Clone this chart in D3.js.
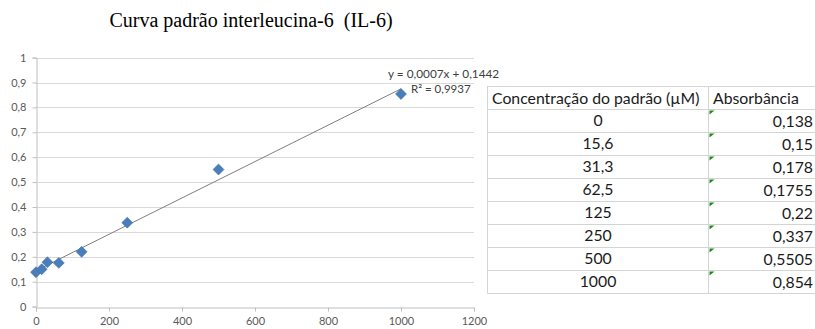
<!DOCTYPE html>
<html>
<head>
<meta charset="utf-8">
<script src="https://cdn.jsdelivr.net/npm/d3@7"></script>
<style>
  html, body { margin: 0; padding: 0; background: #fff; }
  svg { display: block; }
</style>
</head>
<body>
<svg id="chart" width="815" height="329"></svg>
<script>
// Standard curve data: concentration (µM) and measured absorbance
const concentrations = [0, 15.6, 31.3, 62.5, 125, 250, 500, 1000];
const absorbances = [0.138, 0.15, 0.178, 0.1755, 0.22, 0.337, 0.5505, 0.854];
const xTicks = [0, 200, 400, 600, 800, 1000, 1200];
const yTicks = [0, 0.1, 0.2, 0.3, 0.4, 0.5, 0.6, 0.7, 0.8, 0.9, 1];
const tableHeaders = ["Concentração do padrão (µM)", "Absorbância"];

const svg = d3.select("#chart");
const fmt = v => String(v).replace(".", ",");
const axisFont = "Lato, 'Open Sans', sans-serif";

const x = d3.scaleLinear().domain([0, 1200]).range([36, 474]);
const y = d3.scaleLinear().domain([0, 1]).range([306.6, 57.6]);

// Title
svg.append("text")
  .attr("x", 251).attr("y", 27)
  .attr("text-anchor", "middle")
  .attr("font-family", "'Liberation Serif', 'Times New Roman', serif")
  .attr("font-size", 20)
  .attr("fill", "#000")
  .attr("xml:space", "preserve")
  .text("Curva padrão interleucina-6  (IL-6)");

// Horizontal gridlines
svg.append("g").selectAll("line").data(yTicks.filter(d => d > 0)).join("line")
  .attr("x1", x(0)).attr("x2", x(1200))
  .attr("y1", d => Math.round(y(d)) + 0.5).attr("y2", d => Math.round(y(d)) + 0.5)
  .attr("stroke", "#d9d9d9").attr("stroke-width", 1);

// Y axis
const yAxis = svg.append("g")
  .attr("transform", `translate(${Math.round(x(0)) + 0.5},0)`)
  .call(d3.axisLeft(y).tickValues(yTicks).tickFormat(fmt).tickSize(4).tickPadding(6));
// X axis
const xAxis = svg.append("g")
  .attr("transform", `translate(0,${Math.round(y(0)) + 0.5})`)
  .call(d3.axisBottom(x).tickValues(xTicks).tickFormat(d => d).tickSize(4).tickPadding(6));

[yAxis, xAxis].forEach(g => {
  g.select(".domain").attr("stroke", "#bfbfbf");
  g.selectAll(".tick line").attr("stroke", "#bfbfbf");
  g.selectAll(".tick text")
    .attr("font-family", axisFont).attr("font-size", 11).attr("fill", "#595959");
});

// Linear regression (least squares) for the trendline
const n = concentrations.length;
const mx = d3.mean(concentrations), my = d3.mean(absorbances);
let sxy = 0, sxx = 0, syy = 0;
for (let i = 0; i < n; i++) {
  const dx = concentrations[i] - mx, dy = absorbances[i] - my;
  sxy += dx * dy; sxx += dx * dx; syy += dy * dy;
}
const slope = sxy / sxx;
const intercept = my - slope * mx;
const r2 = (sxy * sxy) / (sxx * syy);
const xMin = d3.min(concentrations), xMax = d3.max(concentrations);

svg.append("line")
  .attr("x1", x(xMin)).attr("y1", y(intercept + slope * xMin))
  .attr("x2", x(xMax)).attr("y2", y(intercept + slope * xMax))
  .attr("stroke", "#7f7f7f").attr("stroke-width", 1);

// Data markers (diamonds)
const diamond = d3.symbol().type(d3.symbolDiamond2).size(76);
svg.append("g").selectAll("path").data(concentrations).join("path")
  .attr("d", diamond)
  .attr("transform", (d, i) => `translate(${x(d)},${y(absorbances[i])})`)
  .attr("fill", "#4a7ebb").attr("stroke", "#3f6ea8").attr("stroke-width", 0.6);

// Trendline equation and R²
svg.append("text")
  .attr("x", 388).attr("y", 78)
  .attr("font-family", axisFont).attr("font-size", 11.8).attr("fill", "#404040")
  .text(`y = ${slope.toFixed(4).replace(".", ",")}x + ${intercept.toFixed(4).replace(".", ",")}`);
svg.append("text")
  .attr("x", 411).attr("y", 93)
  .attr("font-family", axisFont).attr("font-size", 11.5).attr("fill", "#404040")
  .text(`R² = ${r2.toFixed(4).replace(".", ",")}`);

// Data table
const tLeft = 487.5, tDiv = 708.5, tRight = 816, tTop = 86, rowH = 23;
const tbl = svg.append("g");
const nRows = n + 1;
for (let r = 0; r <= nRows; r++) {
  const yy = Math.round(tTop + r * rowH) + 0.5;
  tbl.append("line").attr("x1", tLeft).attr("x2", tRight).attr("y1", yy).attr("y2", yy)
    .attr("stroke", "#d4d4d4");
}
[tLeft, tDiv].forEach(xx => {
  tbl.append("line").attr("x1", xx).attr("x2", xx)
    .attr("y1", tTop).attr("y2", Math.round(tTop + nRows * rowH) + 0.5)
    .attr("stroke", "#d4d4d4");
});

const tableFont = "Lato, 'Open Sans', sans-serif";
const tSize = 15.8;
tbl.append("text").attr("x", tLeft + 4.5).attr("y", tTop + 17.5)
  .attr("font-family", tableFont).attr("font-size", tSize).attr("fill", "#1a1a1a")
  .text(tableHeaders[0]);
tbl.append("text").attr("x", tDiv + 4.5).attr("y", tTop + 17.5)
  .attr("font-family", tableFont).attr("font-size", tSize).attr("fill", "#1a1a1a")
  .text(tableHeaders[1]);

concentrations.forEach((c, i) => {
  const top = tTop + (i + 1) * rowH;
  tbl.append("text").attr("x", (tLeft + tDiv) / 2).attr("y", top + 17)
    .attr("text-anchor", "middle")
    .attr("font-family", tableFont).attr("font-size", tSize).attr("fill", "#1a1a1a")
    .text(fmt(c));
  tbl.append("text").attr("x", 813).attr("y", top + 18)
    .attr("text-anchor", "end")
    .attr("font-family", tableFont).attr("font-size", tSize).attr("fill", "#1a1a1a")
    .text(fmt(absorbances[i]));
  // green "number stored as text" indicator
  tbl.append("path")
    .attr("d", `M${tDiv + 1},${top + 1.5} h5 l-5,4 z`)
    .attr("fill", "#1e8a1e");
});
</script>
</body>
</html>
